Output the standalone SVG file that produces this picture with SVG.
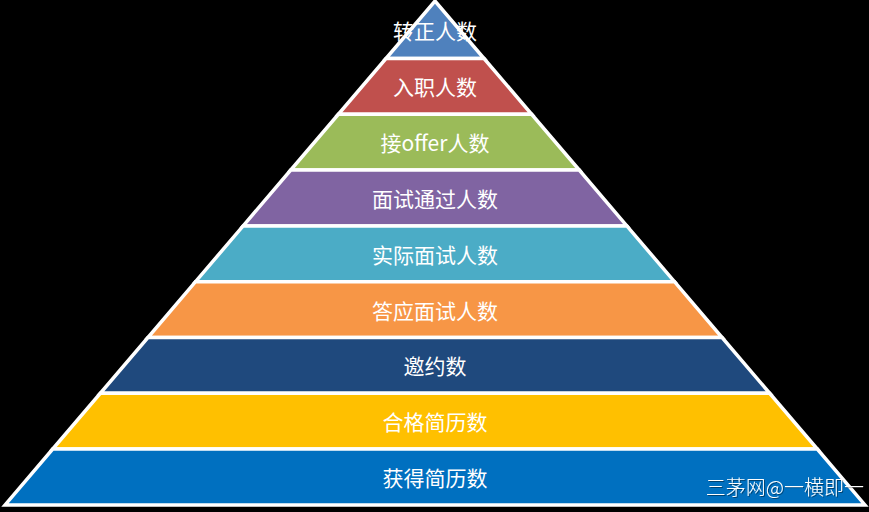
<svg xmlns="http://www.w3.org/2000/svg" width="869" height="512" viewBox="0 0 869 512">
<defs>
<filter id="sh" x="-5%" y="-20%" width="110%" height="140%"><feDropShadow dx="1" dy="1" stdDeviation="0.5" flood-color="#000000" flood-opacity="0.4"/></filter>
</defs>
<style>
.l{stroke:#FFFFFF;stroke-width:3.5;stroke-linejoin:miter}
.t{fill:#FFFFFF;font-family:"Noto Sans CJK SC","Noto Sans",sans-serif;font-size:21px;text-anchor:middle;dominant-baseline:central}
.w{fill:#FFFFFF;font-family:"Noto Sans CJK SC","Noto Sans",sans-serif;font-size:20px;font-weight:300;text-anchor:end;dominant-baseline:central}
</style>
<rect width="869" height="512" fill="#000000"/>
<g id="layer1"><polygon class="l" fill="#4F81BD" points="435,1 484.06,58.5 385.94,58.5"/><text class="t" x="435" y="30">转正人数</text></g>
<g id="layer2"><polygon class="l" fill="#C0504D" points="385.94,58.5 484.06,58.5 531.67,114.3 338.33,114.3"/><text class="t" x="435" y="86.4">入职人数</text></g>
<g id="layer3"><polygon class="l" fill="#9BBB59" points="338.33,114.3 531.67,114.3 579.28,170.1 290.72,170.1"/><text class="t" x="435" y="142.2">接offer人数</text></g>
<g id="layer4"><polygon class="l" fill="#8064A2" points="290.72,170.1 579.28,170.1 626.88,225.9 243.12,225.9"/><text class="t" x="435" y="198">面试通过人数</text></g>
<g id="layer5"><polygon class="l" fill="#4BACC6" points="243.12,225.9 626.88,225.9 674.49,281.7 195.51,281.7"/><text class="t" x="435" y="253.8">实际面试人数</text></g>
<g id="layer6"><polygon class="l" fill="#F79646" points="195.51,281.7 674.49,281.7 722.1,337.5 147.9,337.5"/><text class="t" x="435" y="309.6">答应面试人数</text></g>
<g id="layer7"><polygon class="l" fill="#1F497D" points="147.9,337.5 722.1,337.5 769.71,393.3 100.29,393.3"/><text class="t" x="435" y="365.4">邀约数</text></g>
<g id="layer8"><polygon class="l" fill="#FFC000" points="100.29,393.3 769.71,393.3 817.32,449.1 52.68,449.1"/><text class="t" x="435" y="421.2">合格简历数</text></g>
<g id="layer9"><polygon class="l" fill="#0070C0" points="52.68,449.1 817.32,449.1 864.93,504.9 5.07,504.9"/><text class="t" x="435" y="477">获得简历数</text></g>
<g id="watermark"><text class="w" x="864" y="486" filter="url(#sh)">三茅网@一横即一</text></g>
<g id="connectors"></g>
</svg>
